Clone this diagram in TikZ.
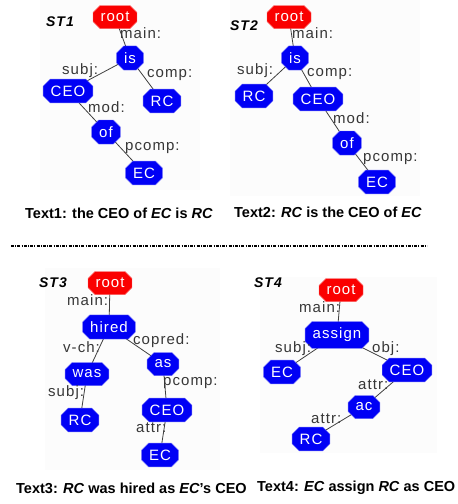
\documentclass[tikz,border=0pt]{standalone}
\usepackage{fontspec}
\setmainfont{Liberation Sans}
\usetikzlibrary{shapes.misc}
\definecolor{nodeblue}{RGB}{0,0,245}
\definecolor{rootred}{RGB}{250,0,0}
\definecolor{lblgray}{RGB}{55,55,55}
\definecolor{panelbg}{RGB}{252,252,252}
\pgfdeclarelayer{panels}
\pgfdeclarelayer{edges}
\pgfsetlayers{panels,edges,main}
\newfontfamily\spacedfont[LetterSpace=7]{Liberation Sans}
\begin{document}
\begin{tikzpicture}[x=1pt,y=-1pt,
  tn/.style={chamfered rectangle, chamfered rectangle xsep=3.5pt, chamfered rectangle ysep=3.5pt,
    fill=nodeblue, draw=nodeblue!60!white, line width=0.4pt, text=white,
    font=\spacedfont\fontsize{15}{15}\selectfont, inner xsep=4pt, inner ysep=3pt, minimum height=23pt},
  rt/.style={tn, fill=rootred, draw=rootred!60!white},
  lbl/.style={anchor=west, inner sep=0pt, text=lblgray, font=\spacedfont\fontsize{15}{15}\selectfont},
  ed/.style={draw=black!75, line width=0.8pt},
  captxt/.style={anchor=west, inner sep=0pt, font=\bfseries\fontsize{14.5}{15}\selectfont},
  ttl/.style={inner sep=0pt, font=\spacedfont\bfseries\itshape\fontsize{14}{14}\selectfont}]
\useasboundingbox (0,0) rectangle (458,504);
\begin{pgfonlayer}{panels}
\fill[white] (0,0) rectangle (458,504);
\fill[panelbg] (40,0) rectangle (200,190);
\fill[panelbg] (230,0) rectangle (420,196);
\fill[panelbg] (45,268) rectangle (220,470);
\fill[panelbg] (260,277) rectangle (437,453);
\end{pgfonlayer}

% ===== ST1 =====
\node[ttl] (t1) at (60,22) {ST1};
\node[rt] (a0) at (115,17) {root};
\node[tn] (a1) at (130,58) {is};
\node[tn] (a2) at (68,91) {CEO};
\node[tn] (a3) at (162,101) {RC};
\node[tn] (a4) at (106,132) {of};
\node[tn] (a5) at (144,173) {EC};
\begin{pgfonlayer}{edges}
\path[ed] (a0.center) -- (a1.center) (a1.center) -- (a2.center) (a1.center) -- (a3.center) (a2.center) -- (a4.center) (a4.center) -- (a5.center);
\end{pgfonlayer}
\node[lbl] (la1) at (120,33) {main:};
\node[lbl] (la2) at (62,71) {subj:};
\node[lbl] (la3) at (147,75) {comp:};
\node[lbl] (la4) at (88,107) {mod:};
\node[lbl] (la5) at (125,148) {pcomp:};
\node[captxt] (c1) at (25,213) {Text1: the CEO of \textit{EC} is \textit{RC}};

% ===== ST2 =====
\node[ttl] (t2) at (244,26) {ST2};
\node[rt] (b0) at (289,17) {root};
\node[tn] (b1) at (295,58) {is};
\node[tn] (b2) at (254,96) {RC};
\node[tn] (b3) at (318,99) {CEO};
\node[tn] (b4) at (347,143) {of};
\node[tn] (b5) at (377,182) {EC};
\begin{pgfonlayer}{edges}
\path[ed] (b0.center) -- (b1.center) (b1.center) -- (b2.center) (b1.center) -- (b3.center) (b3.center) -- (b4.center) (b4.center) -- (b5.center);
\end{pgfonlayer}
\node[lbl] (lb1) at (292,33) {main:};
\node[lbl] (lb2) at (237,71) {subj:};
\node[lbl] (lb3) at (307,74) {comp:};
\node[lbl] (lb4) at (333,118) {mod:};
\node[lbl] (lb5) at (363,159) {pcomp:};
\node[captxt] (c2) at (234,212) {Text2: \textit{RC} is the CEO of \textit{EC}};

% separator
\coordinate (s1) at (11,246);
\coordinate (s2) at (427,246);
\draw[line width=1.2pt, dash pattern=on 3pt off 1.2pt on 1pt off 1.2pt] (s1) -- (s2);

% ===== ST3 =====
\node[ttl] (t3) at (53,283) {ST3};
\node[rt] (c0) at (110,283) {root};
\node[tn] (c1n) at (109,327) {hired};
\node[tn] (c2n) at (87,374) {was};
\node[tn] (c3n) at (163,364) {as};
\node[tn] (c4n) at (80,420) {RC};
\node[tn] (c5n) at (167,410) {CEO};
\node[tn] (c6n) at (160,455) {EC};
\begin{pgfonlayer}{edges}
\path[ed] (c0.center) -- (c1n.center) (c1n.center) -- (c2n.center) (c1n.center) -- (c3n.center) (c2n.center) -- (c4n.center) (c3n.center) -- (c5n.center) (c5n.center) -- (c6n.center);
\end{pgfonlayer}
\node[lbl] (lc1) at (67,300) {main:};
\node[lbl] (lc2) at (63,347) {v-ch:};
\node[lbl] (lc3) at (133,341) {copred:};
\node[lbl] (lc4) at (163,383) {pcomp:};
\node[lbl] (lc5) at (48,393) {subj:};
\node[lbl] (lc6) at (136,428) {attr:};
\node[captxt] (c3) at (16,488) {Text3: \textit{RC} was hired as \textit{EC}'s CEO};

% ===== ST4 =====
\node[ttl] (t4) at (268,283) {ST4};
\node[rt] (d0) at (341,290) {root};
\node[tn] (d1) at (337,335) {assign};
\node[tn] (d2) at (282,372) {EC};
\node[tn] (d3) at (407,370) {CEO};
\node[tn] (d4) at (364,407) {ac};
\node[tn] (d5) at (311,439) {RC};
\begin{pgfonlayer}{edges}
\path[ed] (d0.center) -- (d1.center) (d1.center) -- (d2.center) (d1.center) -- (d3.center) (d3.center) -- (d4.center) (d4.center) -- (d5.center);
\end{pgfonlayer}
\node[lbl] (ld1) at (299,307) {main:};
\node[lbl] (ld2) at (275,349) {subj:};
\node[lbl] (ld3) at (372,349) {obj:};
\node[lbl] (ld4) at (358,385) {attr:};
\node[lbl] (ld5) at (311,419) {attr:};
\node[captxt] (c4) at (257,488) {Text4: \textit{EC} assign \textit{RC} as CEO};
\end{tikzpicture}
\end{document}
